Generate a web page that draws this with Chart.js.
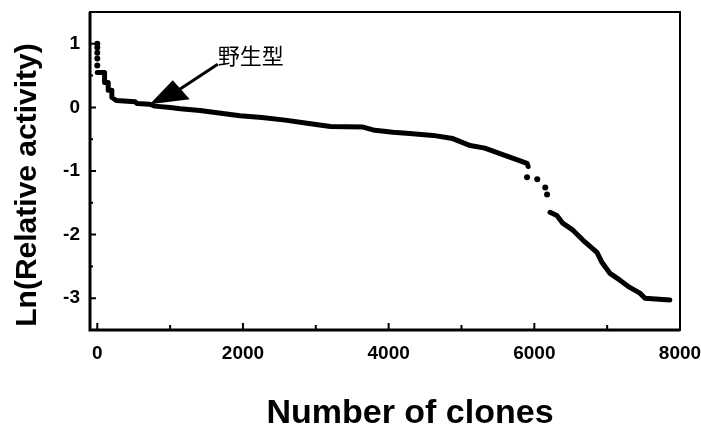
<!DOCTYPE html>
<html>
<head>
<meta charset="utf-8">
<script src="https://cdn.jsdelivr.net/npm/chart.js@4.4.1/dist/chart.umd.min.js"></script>
<style>
  html, body { margin: 0; padding: 0; background: #fff; }
  #wrap { width: 701px; height: 428px; }
</style>
</head>
<body>
<div id="wrap"><canvas id="clonesChart" width="701" height="428"></canvas></div>
<script>
// clones sorted by activity
const upperClones = [0, 100, 100, 150, 150, 200, 200, 260, 520, 545, 720, 790, 1000, 1140, 1410, 1620, 1960, 2260, 2580, 2880, 3200, 3650, 3810, 4060, 4290, 4610, 4880, 5120, 5320, 5490, 5710, 5900, 5915];
const upperLn = [0.55, 0.55, 0.39, 0.39, 0.27, 0.27, 0.16, 0.11, 0.09, 0.06, 0.05, 0.02, 0.0, -0.02, -0.05, -0.08, -0.13, -0.16, -0.2, -0.25, -0.3, -0.31, -0.36, -0.39, -0.41, -0.44, -0.49, -0.6, -0.64, -0.71, -0.8, -0.88, -0.93];
const lowerClones = [6215, 6310, 6390, 6530, 6670, 6860, 6930, 7040, 7180, 7310, 7450, 7520, 7860];
const lowerLn = [-1.65, -1.7, -1.82, -1.93, -2.09, -2.28, -2.44, -2.61, -2.72, -2.83, -2.92, -3.0, -3.03];
// loose points: top of the curve and the gap near 6000
const dotClones = [0, 0, 0, 0, 0, 5900, 6040, 6150, 6175];
const dotLn = [1.0, 0.94, 0.86, 0.77, 0.66, -1.1, -1.13, -1.26, -1.37];

const xTicks = [0, 2000, 4000, 6000, 8000];
const xMinor = [1000, 3000, 5000, 7000];
const yTicks = [-3, -2, -1, 0, 1];
const yMinor = [-2.5, -1.5, -0.5, 0.5];

const xTitle = 'Number of clones';
const yTitle = 'Ln(Relative activity)';
const wildType = { label: '野生型', clones: 720, ln: 0.05 };

const toPoints = (xs, ys) => xs.map((v, i) => ({ x: v, y: ys[i] }));

const tickFont = { family: '"Liberation Sans", Arial, sans-serif', size: 19, weight: 'bold' };

// box round the plot with inward ticks
const framePlugin = {
  id: 'frame',
  afterDraw(chart) {
    const { ctx, chartArea: a, scales: { x, y } } = chart;
    ctx.save();
    ctx.strokeStyle = '#000';
    ctx.lineWidth = 2;
    ctx.strokeRect(a.left, a.top, a.right - a.left, a.bottom - a.top);
    ctx.lineWidth = 3;
    ctx.beginPath();
    ctx.moveTo(a.left, a.top);
    ctx.lineTo(a.left, a.bottom);
    ctx.lineTo(a.right, a.bottom);
    ctx.stroke();

    ctx.lineWidth = 2;
    ctx.beginPath();
    const xMark = (v, len) => {
      const px = x.getPixelForValue(v);
      ctx.moveTo(px, a.bottom);
      ctx.lineTo(px, a.bottom - len);
    };
    const yMark = (v, len) => {
      const py = y.getPixelForValue(v);
      ctx.moveTo(a.left, py);
      ctx.lineTo(a.left + len, py);
    };
    xTicks.forEach(v => xMark(v, 7));
    xMinor.forEach(v => xMark(v, 5));
    yTicks.forEach(v => yMark(v, 6));
    yMinor.forEach(v => yMark(v, 3));
    ctx.stroke();

    // axis titles
    ctx.fillStyle = '#000';
    ctx.textAlign = 'center';
    ctx.textBaseline = 'middle';
    ctx.font = 'bold 34px "Liberation Sans", Arial, sans-serif';
    ctx.fillText(xTitle, (a.left + a.right) / 2 + 25, a.bottom + 84);
    ctx.save();
    ctx.translate(a.left - 62, (a.top + a.bottom) / 2 + 14);
    ctx.rotate(-Math.PI / 2);
    ctx.font = 'bold 30px "Liberation Sans", Arial, sans-serif';
    ctx.fillText(yTitle, 0, 0);
    ctx.restore();
    ctx.restore();
  }
};

// arrow pointing at the wild type
const wildTypePlugin = {
  id: 'wildType',
  afterDatasetsDraw(chart) {
    const { ctx, scales: { x, y } } = chart;
    const tx = x.getPixelForValue(wildType.clones);
    const ty = y.getPixelForValue(wildType.ln);
    ctx.save();
    ctx.fillStyle = '#000';
    ctx.strokeStyle = '#000';
    ctx.beginPath();
    ctx.moveTo(tx, ty);
    ctx.lineTo(tx + 23, ty - 24);
    ctx.lineTo(tx + 40, ty - 5);
    ctx.closePath();
    ctx.fill();
    ctx.lineWidth = 3;
    ctx.beginPath();
    ctx.moveTo(tx + 30, ty - 15);
    ctx.lineTo(tx + 68, ty - 40);
    ctx.stroke();
    ctx.font = '22px "Noto Sans CJK JP"';
    ctx.textAlign = 'left';
    ctx.textBaseline = 'middle';
    ctx.fillText(wildType.label, tx + 68, ty - 49);
    ctx.restore();
  }
};

const lineStyle = {
  showLine: true,
  borderColor: '#000',
  borderWidth: 5,
  borderJoinStyle: 'round',
  borderCapStyle: 'round',
  pointRadius: 0
};

new Chart(document.getElementById('clonesChart'), {
  type: 'scatter',
  data: {
    datasets: [
      { ...lineStyle, data: toPoints(upperClones, upperLn) },
      { ...lineStyle, data: toPoints(lowerClones, lowerLn) },
      {
        data: toPoints(dotClones, dotLn),
        showLine: false,
        pointRadius: 3,
        pointBorderWidth: 0,
        pointBackgroundColor: '#000'
      }
    ]
  },
  options: {
    responsive: false,
    animation: false,
    devicePixelRatio: 1,
    layout: { padding: { top: 12, right: 21, left: 0, bottom: 0 } },
    plugins: { legend: { display: false }, tooltip: { enabled: false } },
    scales: {
      x: {
        type: 'linear',
        min: -100,
        max: 8000,
        grid: { display: false, drawTicks: false },
        border: { display: false },
        afterBuildTicks: s => { s.ticks = xTicks.map(v => ({ value: v })); },
        afterFit: s => { s.height = 98; s.paddingLeft = 0; s.paddingRight = 0; },
        ticks: { color: '#000', font: tickFont, padding: 12, maxRotation: 0, callback: v => String(v) }
      },
      y: {
        min: -3.5,
        max: 1.5,
        grid: { display: false, drawTicks: false },
        border: { display: false },
        afterBuildTicks: s => { s.ticks = yTicks.map(v => ({ value: v })); },
        afterFit: s => { s.width = 90; s.paddingTop = 0; s.paddingBottom = 0; },
        ticks: { color: '#000', font: tickFont, padding: 10 }
      }
    }
  },
  plugins: [framePlugin, wildTypePlugin]
});
</script>
</body>
</html>
